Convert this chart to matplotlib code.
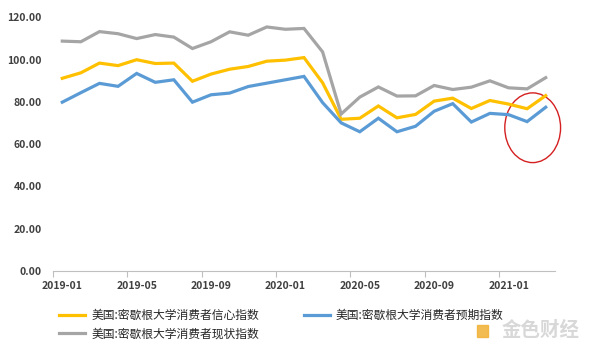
import matplotlib.pyplot as plt
from matplotlib.patches import Ellipse, Rectangle
import numpy as np

plt.rcParams['font.family'] = ['Noto Sans CJK SC', 'DejaVu Sans']

# 密歇根大学消费者指数, 2019-01 .. 2021-03
months = ['2019-01', '2019-02', '2019-03', '2019-04', '2019-05', '2019-06',
          '2019-07', '2019-08', '2019-09', '2019-10', '2019-11', '2019-12',
          '2020-01', '2020-02', '2020-03', '2020-04', '2020-05', '2020-06',
          '2020-07', '2020-08', '2020-09', '2020-10', '2020-11', '2020-12',
          '2021-01', '2021-02', '2021-03']
sentiment = [91.2, 93.8, 98.4, 97.2, 100.0, 98.2, 98.4, 89.8, 93.2, 95.5, 96.8, 99.3,
             99.8, 101.0, 89.1, 71.8, 72.3, 78.1, 72.5, 74.1, 80.4, 81.8, 76.9, 80.7,
             79.0, 76.8, 83.0]
expectations = [79.9, 84.4, 88.8, 87.4, 93.5, 89.3, 90.5, 79.9, 83.4, 84.2, 87.3, 88.9,
                90.5, 92.1, 79.7, 70.1, 65.9, 72.3, 65.9, 68.5, 75.6, 79.2, 70.5, 74.6,
                74.0, 70.7, 77.5]
current = [108.8, 108.5, 113.3, 112.3, 110.0, 111.9, 110.7, 105.3, 108.5, 113.2, 111.6, 115.5,
           114.4, 114.8, 103.7, 74.3, 82.3, 87.1, 82.8, 82.9, 87.8, 85.9, 87.0, 90.0,
           86.7, 86.2, 91.5]

names = ['美国:密歇根大学消费者信心指数', '美国:密歇根大学消费者预期指数', '美国:密歇根大学消费者现状指数']
colors = ['#FFC000', '#5B9BD5', '#A5A5A5']

fig = plt.figure(figsize=(5.92, 3.49), dpi=100)
ax = fig.add_axes([0.0895, 0.2235, 0.848, 0.7265])

x = np.arange(len(months))
lines = []
for vals, name, c in zip([sentiment, expectations, current], names, colors):
    ln, = ax.plot(x, vals, color=c, lw=2.3, label=name, solid_joinstyle='miter')
    lines.append(ln)

ax.set_xlim(-0.5, len(months) - 0.5)
ax.set_ylim(0, 120)
ax.set_yticks(np.arange(0, 121, 20))
ax.set_yticklabels([f'{v:.2f}' for v in np.arange(0, 121, 20)])

# labels sit on every fourth month, tick marks between categories
ax.set_xticks(x[::4])
ax.set_xticklabels(months[::4])
ax.set_xticks(np.arange(-0.5, len(months) - 0.5, 4), minor=True)
ax.tick_params(axis='x', which='major', length=0, pad=7)
ax.tick_params(axis='x', which='minor', length=4, color='#BFBFBF', width=0.8)
ax.tick_params(axis='y', length=0, pad=8)
for lab in ax.get_xticklabels() + ax.get_yticklabels():
    lab.set_fontsize(7.5)
    lab.set_color('#404040')
    lab.set_fontweight('bold')

for s in ['top', 'right', 'left']:
    ax.spines[s].set_visible(False)
ax.spines['bottom'].set_color('#BFBFBF')
ax.spines['bottom'].set_linewidth(0.8)

# red circle around the latest readings
ax.add_patch(Ellipse((25.3, 67.8), 3.0, 33, fill=False, edgecolor='#D42020',
                     lw=1.0, clip_on=False))

# column-wise fill: 信心 / 现状 on the left, 预期 on the right
fig.legend([lines[0], lines[2], lines[1]], [names[0], names[2], names[1]],
           loc='upper left', bbox_to_anchor=(0.092, 0.128), ncol=2, frameon=False,
           fontsize=8.5, handlelength=2.2, handletextpad=0.5, columnspacing=3.8,
           labelspacing=0.45, borderaxespad=0, labelcolor='#262626')

# watermark
fig.patches.append(Rectangle((477 / 592, 1 - 337 / 349), 11 / 592, 12 / 349,
                             transform=fig.transFigure, color='#F2B135', alpha=0.85))
fig.text(541 / 592, 1 - 330 / 349, '金色财经', ha='center', va='center',
         fontsize=14, color='#D8D8D8', fontweight='bold')

fig.savefig('out.png', dpi=100)
